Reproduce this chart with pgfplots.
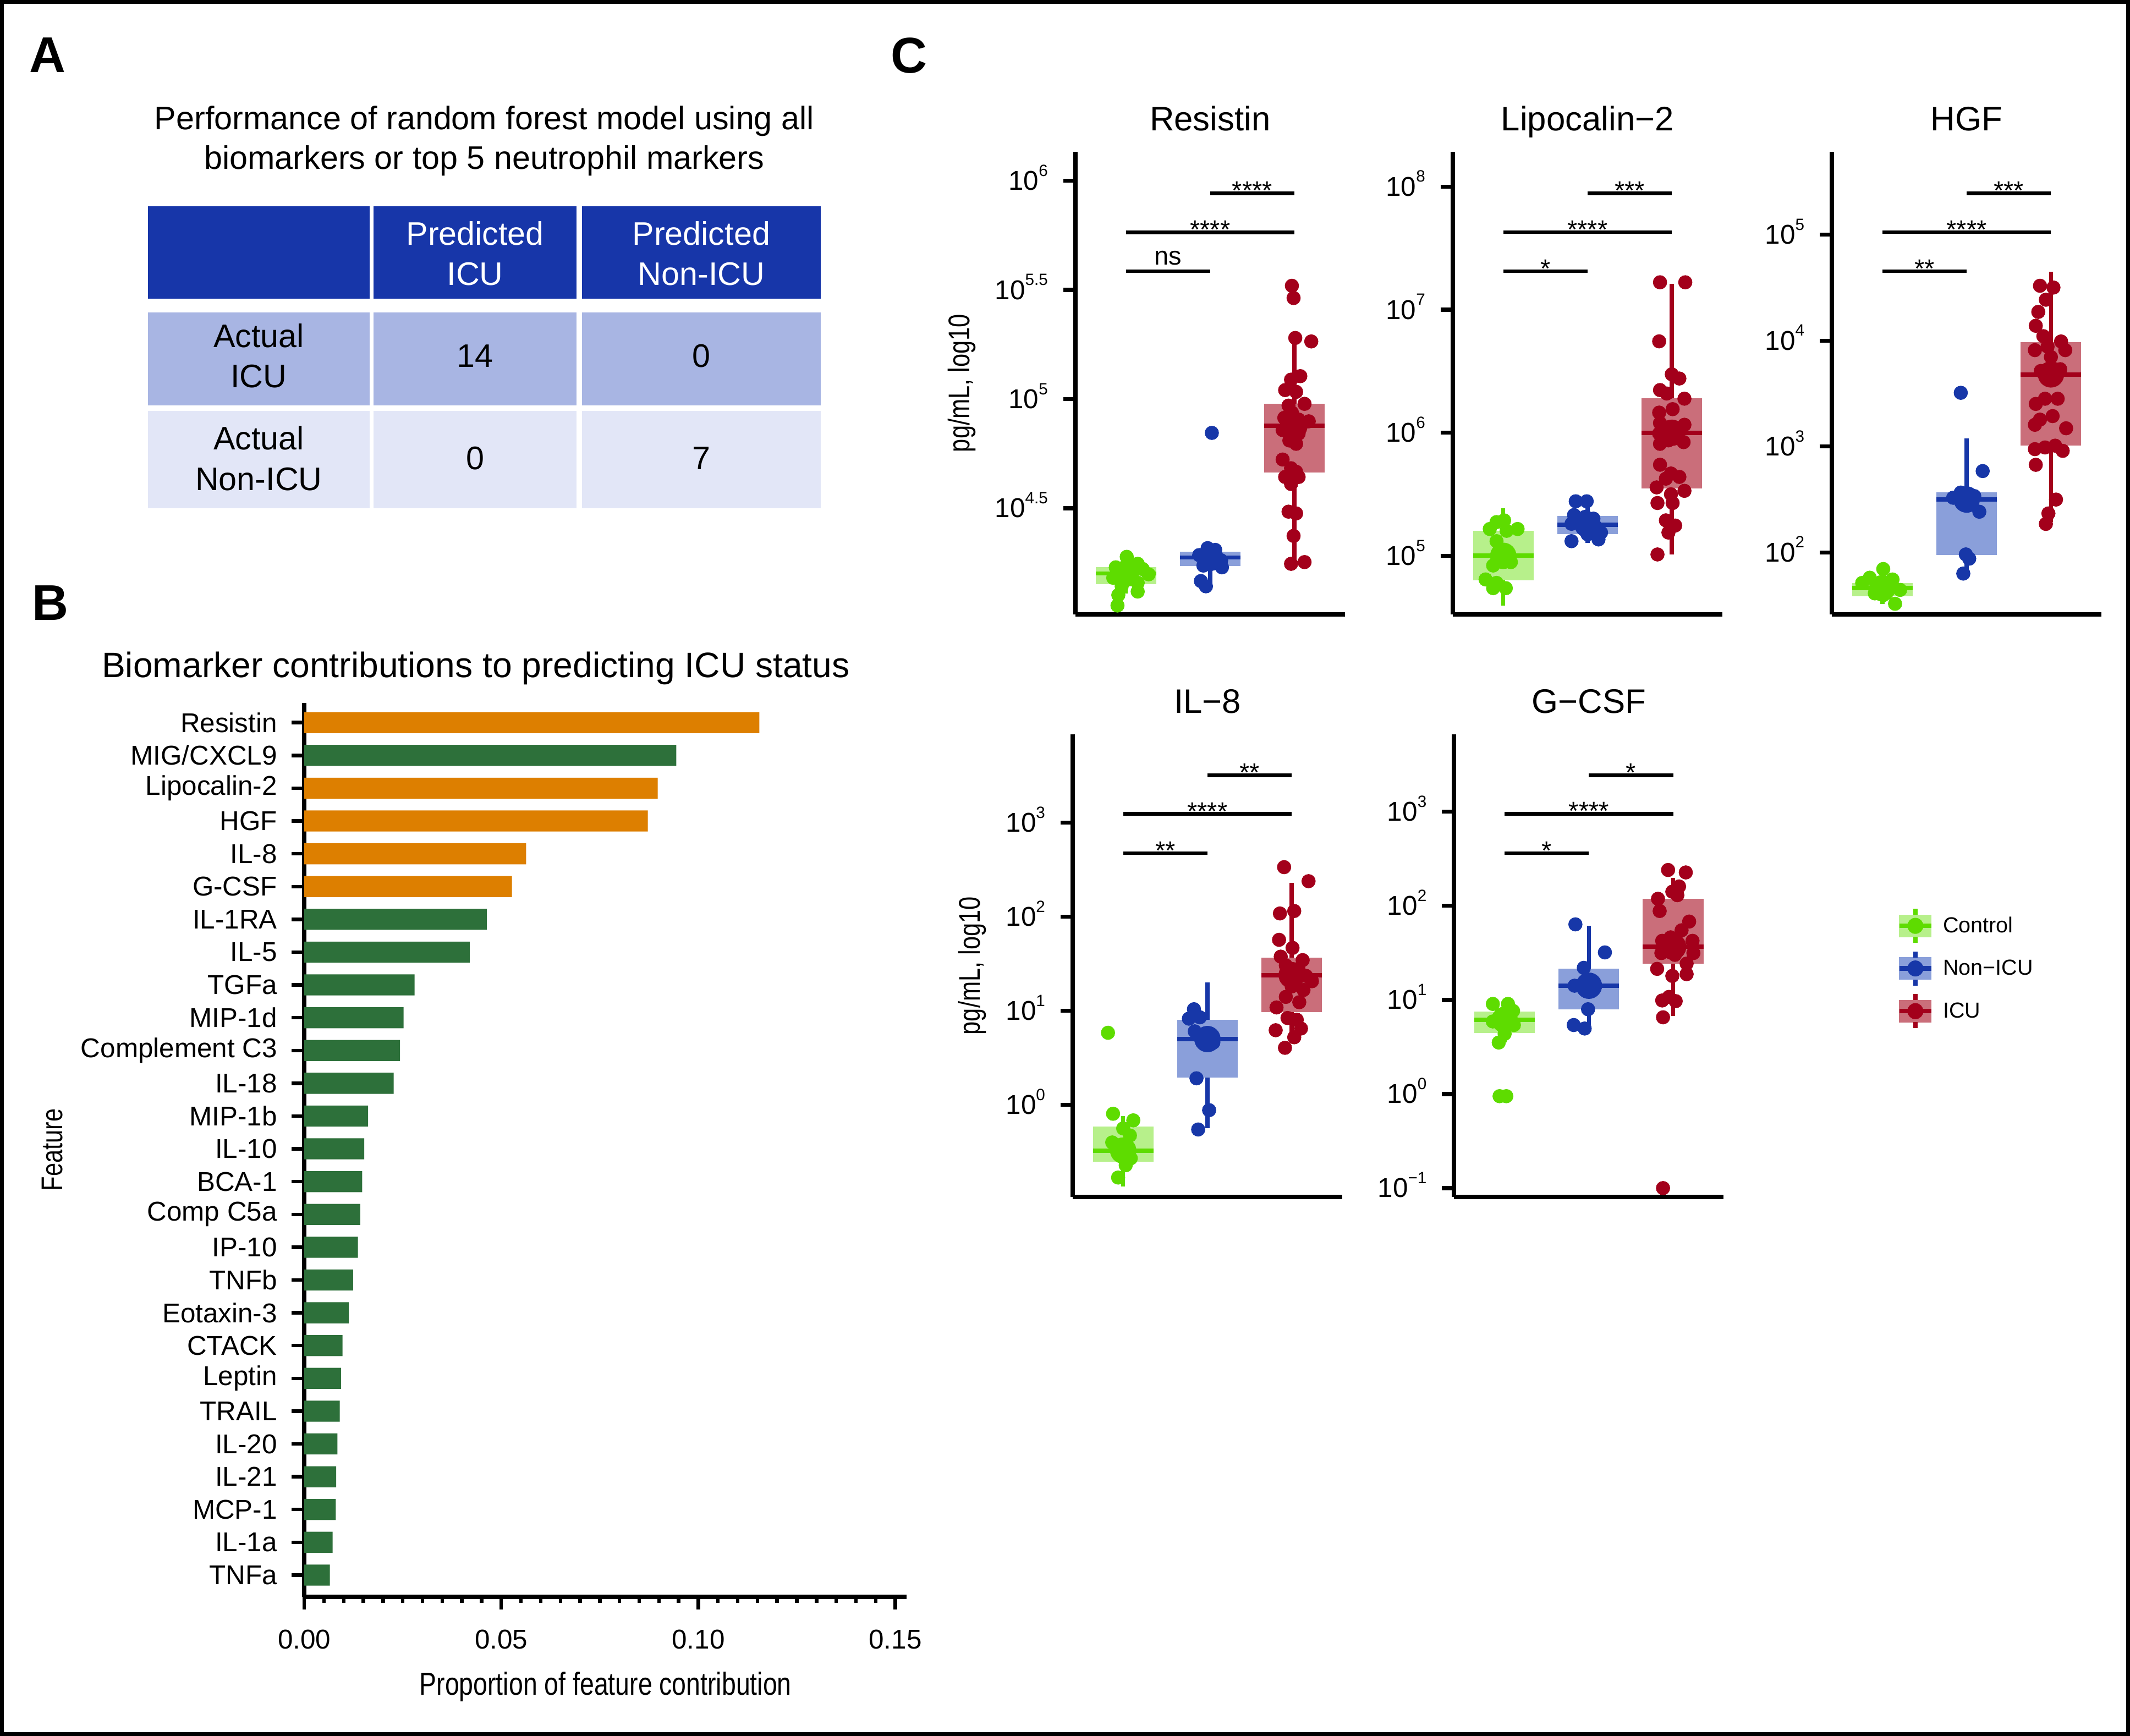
\documentclass[border=0pt]{standalone}
\usepackage{pgfplots}
\pgfplotsset{compat=1.18}
\usepgfplotslibrary{statistics}
\usepackage{fontspec}
\setmainfont{Liberation Sans}
\newfontfamily\condsans[FakeStretch=0.8]{Liberation Sans}
\definecolor{ctl}{HTML}{5EDC00}
\definecolor{ctlL}{HTML}{B7F08B}
\definecolor{non}{HTML}{1737A8}
\definecolor{nonL}{HTML}{8A9FDA}
\definecolor{icu}{HTML}{A3001B}
\definecolor{icuL}{HTML}{CA6E7A}
\definecolor{barO}{HTML}{DD7F00}
\definecolor{barG}{HTML}{2D703A}
\definecolor{hdr}{HTML}{1736A9}
\definecolor{rowa}{HTML}{A8B5E3}
\definecolor{rowb}{HTML}{E2E6F7}
\newcommand{\fs}[1]{\fontsize{#1}{#1}\selectfont}
\newcommand{\tl}[1]{10\smash{\raisebox{10.3pt}{\fs{12}#1}}}
% box: pos, dark, light, lw, q1, med, q3, uw
\newcommand{\bx}[8]{\addplot[forget plot, mark=none, line width=3pt, boxplot prepared={draw direction=y, draw position=#1, lower whisker=#4, lower quartile=#5, median=#6, upper quartile=#7, upper whisker=#8, box extend=0.72, whisker extend=0, every box/.style={draw=none, fill=#3}, every whisker/.style={draw=#2, line width=3pt}, every median/.style={draw=#2, line width=3.2pt}}] coordinates {};}
% bracket: x1, x2, xm, y, label, shift
\newcommand{\brk}[6]{\addplot[forget plot, black, line width=2.6pt] coordinates {(#1,#4) (#2,#4)};
\node[anchor=base, inner sep=0pt, font=\fs{19}, yshift=#6] at (axis cs:#3,#4) {#5};}
\pgfplotsset{
 pts/.style={forget plot, only marks, mark=*, mark size=5pt, color=#1, mark options={draw=none, fill=#1}},
 med/.style={forget plot, only marks, mark=*, mark size=9.5pt, color=#1, mark options={draw=none, fill=#1}},
 cpanel/.style={
  scale only axis, width=198.5pt, height=340.3pt, anchor=north west,
  xmin=0.4, xmax=3.6,
  axis lines=left,
  axis line style={-, line width=3.2pt, black},
  xtick=\empty,
  ytick style={line width=3pt, black},
  tick align=outside, major tick length=9pt,
  yticklabel style={font=\fs{20}, inner sep=0pt, xshift=-11pt},
  every axis title/.style={at={(0.5,1)}, anchor=base, yshift=15.8pt, font=\fs{25}, inner sep=0pt},
  clip=false,
 },
}
\begin{document}
\begin{tikzpicture}
\useasboundingbox (0pt,0pt) rectangle (1568pt,-1278pt);
\fill[white] (0pt,0pt) rectangle (1568pt,-1278pt);

% ---------- Panel A ----------
\node[anchor=base west, inner sep=0pt, font=\fs{37}\bfseries] at (21.5pt,-53.3pt) {A};
\node[anchor=base, inner sep=0pt, font=\fs{24}] at (356.5pt,-95.5pt) {Performance of random forest model using all};
\node[anchor=base, inner sep=0pt, font=\fs{24}] at (356.5pt,-124.5pt) {biomarkers or top 5 neutrophil markers};
\fill[hdr] (109pt,-152pt) rectangle (272pt,-220pt);
\fill[hdr] (275pt,-152pt) rectangle (424.5pt,-220pt);
\fill[hdr] (428.5pt,-152pt) rectangle (604pt,-220pt);
\fill[rowa] (109pt,-230pt) rectangle (272pt,-298.5pt);
\fill[rowa] (275pt,-230pt) rectangle (424.5pt,-298.5pt);
\fill[rowa] (428.5pt,-230pt) rectangle (604pt,-298.5pt);
\fill[rowb] (109pt,-302.5pt) rectangle (272pt,-374pt);
\fill[rowb] (275pt,-302.5pt) rectangle (424.5pt,-374pt);
\fill[rowb] (428.5pt,-302.5pt) rectangle (604pt,-374pt);
\begin{scope}[every node/.style={align=center, inner sep=0pt, font=\fontsize{24}{29.7}\selectfont}]
\node[text=white] at (349.75pt,-186.5pt) {Predicted\\ICU};
\node[text=white] at (516.25pt,-186.5pt) {Predicted\\Non-ICU};
\node at (190.5pt,-262pt) {Actual\\ICU};
\node at (349.75pt,-262pt) {14};
\node at (516.25pt,-262pt) {0};
\node at (190.5pt,-337.5pt) {Actual\\Non-ICU};
\node at (349.75pt,-337.5pt) {0};
\node at (516.25pt,-337.5pt) {7};
\end{scope}

% ---------- Panel B ----------
\node[anchor=base west, inner sep=0pt, font=\fs{37}\bfseries] at (23.6pt,-456.7pt) {B};
\node[anchor=base, inner sep=0pt, font=\fs{26}] at (350.25pt,-498.7pt) {Biomarker contributions to predicting ICU status};
\begin{axis}[
  at={(224pt,-517.5pt)}, anchor=north west, scale only axis,
  width=443.5pt, height=658pt,
  xmin=0, xmax=0.1529, ymin=0.34, ymax=27.60,
  axis lines=left, axis line style={-, line width=3.2pt, black},
  tick align=outside, major tick length=9.3pt, minor tick length=4.4pt,
  tick style={line width=2.6pt, black},
  xtick={0,0.05,0.1,0.15}, xticklabels={0.00,0.05,0.10,0.15},
  minor x tick num=9,
  ytick={1,...,27},
  yticklabels={TNFa,IL-1a,MCP-1,IL-21,IL-20,TRAIL,Leptin,CTACK,Eotaxin-3,TNFb,IP-10,Comp C5a,BCA-1,IL-10,MIP-1b,IL-18,Complement C3,MIP-1d,TGFa,IL-5,IL-1RA,G-CSF,IL-8,HGF,Lipocalin-2,MIG/CXCL9,Resistin},
  yticklabel style={font=\fs{20}, inner sep=0pt, xshift=-10.5pt},
  xticklabel style={font=\fs{20}, inner sep=0pt, yshift=-15pt},
  xlabel={Proportion of feature contribution},
  ylabel={Feature},
  every axis x label/.style={at={(axis description cs:0.5,0)}, anchor=base, yshift=-72.5pt, inner sep=0pt, font=\condsans\fs{23.5}},
  every axis y label/.style={at={(axis description cs:-0.4014,0.5)}, rotate=90, anchor=base, inner sep=0pt, font=\condsans\fs{22}},
  clip=false,
]
\addplot[xbar, fill=barO, draw=none, bar width=15.5pt, bar shift=0pt] coordinates {
 (0.1155,27) (0.0897,25) (0.0872,24) (0.0563,23) (0.0527,22)};
\addplot[xbar, fill=barG, draw=none, bar width=15.5pt, bar shift=0pt] coordinates {
 (0.0944,26) (0.0463,21) (0.0420,20) (0.0280,19) (0.0252,18) (0.0243,17) (0.0227,16)
 (0.0162,15) (0.0152,14) (0.0147,13) (0.0142,12) (0.0136,11) (0.0124,10) (0.0113,9)
 (0.0097,8) (0.0093,7) (0.0090,6) (0.0084,5) (0.0081,4) (0.0080,3) (0.0072,2) (0.0065,1)};
\end{axis}

% ---------- Panel C ----------
\node[anchor=base west, inner sep=0pt, font=\fs{37}\bfseries] at (655.7pt,-53.6pt) {C};

% Resistin
\begin{axis}[cpanel, at={(791.6pt,-111.9pt)}, ymin=4.014, ymax=6.132,
  ytick={4.5,5,5.5,6}, yticklabels={\tl{4.5},\tl{5},\tl{5.5},\tl{6}},
  title={Resistin}, ylabel={pg/mL, log10},
  every axis y label/.style={at={(axis description cs:-0.392,0.5)}, rotate=90, anchor=base, inner sep=0pt, font=\condsans\fs{22}}]
\bx{1}{ctl}{ctlL}{4.11}{4.153}{4.201}{4.229}{4.277}
\bx{2}{non}{nonL}{4.15}{4.234}{4.274}{4.301}{4.317}
\bx{3}{icu}{icuL}{4.253}{4.664}{4.877}{4.978}{5.264}
\addplot[pts=ctl] coordinates {(1.01,4.277) (1.14,4.245) (0.88,4.229) (1.20,4.221) (0.98,4.213) (1.27,4.197) (0.85,4.181) (1.04,4.174) (1.14,4.158) (0.95,4.142) (1.14,4.118) (0.91,4.102) (0.90,4.054)};
\addplot[pts=non] coordinates {(1.97,4.317) (2.06,4.309) (1.87,4.285) (2.13,4.261) (2.02,4.245) (1.92,4.237) (2.14,4.229) (1.89,4.166) (1.95,4.142) (2.02,4.845)};
\addplot[pts=icu] coordinates {(2.97,5.519) (2.99,5.463) (3.01,5.280) (3.20,5.264) (3.07,5.105) (2.96,5.089) (2.89,5.041) (3.02,5.033) (3.12,4.978) (2.93,4.970) (2.97,4.938) (2.88,4.914) (3.05,4.906) (3.17,4.898) (2.96,4.874) (2.86,4.858) (3.05,4.842) (2.94,4.810) (3.02,4.795) (2.86,4.723) (2.96,4.683) (3.02,4.667) (2.89,4.643) (3.05,4.643) (2.96,4.611) (2.93,4.484) (3.02,4.476) (2.99,4.373) (2.96,4.245) (3.12,4.253)};
\addplot[med=ctl] coordinates {(1,4.201)};
\addplot[med=non] coordinates {(2,4.274)};
\addplot[med=icu] coordinates {(3,4.877)};
\brk{1}{2}{1.5}{5.586}{ns}{4.6pt}
\brk{1}{3}{2}{5.764}{****}{-4.6pt}
\brk{2}{3}{2.5}{5.943}{****}{-4.6pt}
\end{axis}

% Lipocalin-2
\begin{axis}[cpanel, at={(1069.4pt,-111.9pt)}, ymin=4.525, ymax=8.282,
  ytick={5,6,7,8}, yticklabels={\tl{5},\tl{6},\tl{7},\tl{8}},
  title={Lipocalin−2}]
\bx{1}{ctl}{ctlL}{4.596}{4.802}{5.0}{5.203}{5.387}
\bx{2}{non}{nonL}{5.105}{5.175}{5.254}{5.322}{5.443}
\bx{3}{icu}{icuL}{5.011}{5.548}{6.0}{6.282}{7.209}
\addplot[pts=ctl] coordinates {(0.92,5.274) (1.01,5.288) (0.84,5.218) (1.17,5.218) (1.04,5.203) (0.92,5.119) (1.01,4.977) (1.09,4.949) (0.88,4.921) (0.79,4.808) (0.92,4.780) (1.03,4.737) (0.88,4.737)};
\addplot[pts=non] coordinates {(1.86,5.443) (1.99,5.443) (1.84,5.331) (1.97,5.316) (2.07,5.302) (1.81,5.260) (1.95,5.246) (2.10,5.232) (2.16,5.189) (1.81,5.119) (2.13,5.133) (2.00,5.175)};
\addplot[pts=icu] coordinates {(2.86,7.223) (3.16,7.223) (2.85,6.743) (3.00,6.475) (3.09,6.441) (2.86,6.347) (2.94,6.319) (3.15,6.277) (3.01,6.192) (2.85,6.164) (2.86,6.079) (3.15,6.065) (2.99,6.023) (3.07,6.008) (2.85,5.994) (2.96,5.938) (3.14,5.924) (2.86,5.910) (2.86,5.740) (2.99,5.669) (3.09,5.641) (2.93,5.627) (2.82,5.556) (3.15,5.528) (2.99,5.500) (2.83,5.429) (3.01,5.429) (2.93,5.288) (3.04,5.246) (2.96,5.189) (2.83,5.011)};
\addplot[med=ctl] coordinates {(1,5.0)};
\addplot[med=non] coordinates {(2,5.254)};
\addplot[med=icu] coordinates {(3,6.0)};
\brk{1}{2}{1.5}{7.314}{*}{-4.6pt}
\brk{1}{3}{2}{7.630}{****}{-4.6pt}
\brk{2}{3}{2.5}{7.946}{***}{-4.6pt}
\end{axis}

% HGF
\begin{axis}[cpanel, at={(1348.5pt,-111.9pt)}, ymin=1.416, ymax=5.781,
  ytick={2,3,4,5}, yticklabels={\tl{2},\tl{3},\tl{4},\tl{5}},
  title={HGF}]
\bx{1}{ctl}{ctlL}{1.515}{1.587}{1.662}{1.712}{1.843}
\bx{2}{non}{nonL}{1.80}{1.974}{2.499}{2.565}{3.074}
\bx{3}{icu}{icuL}{2.286}{3.008}{3.681}{3.983}{4.649}
\addplot[pts=ctl] coordinates {(1.01,1.843) (0.85,1.761) (1.12,1.744) (0.76,1.712) (1.21,1.646) (0.91,1.613) (1.01,1.597) (1.15,1.515) (0.97,1.662) (1.05,1.70) (0.93,1.68)};
\addplot[pts=non] coordinates {(1.93,3.507) (2.19,2.768) (1.84,2.516) (1.93,2.565) (2.09,2.532) (2.15,2.384) (1.99,1.981) (2.03,1.941) (1.96,1.800) (2.0,2.48)};
\addplot[pts=icu] coordinates {(2.87,4.518) (3.03,4.501) (2.94,4.386) (2.85,4.271) (2.82,4.140) (2.91,4.042) (3.12,3.992) (2.96,3.943) (3.17,3.910) (2.81,3.910) (3.00,3.845) (2.88,3.713) (3.11,3.730) (2.82,3.402) (2.93,3.451) (3.08,3.451) (3.02,3.287) (2.87,3.254) (2.81,3.205) (3.18,3.172) (2.81,2.975) (2.93,2.991) (3.05,3.008) (3.14,2.959) (2.82,2.827) (3.06,2.499) (2.97,2.368) (2.94,2.269)};
\addplot[med=ctl] coordinates {(1,1.662)};
\addplot[med=non] coordinates {(2,2.499)};
\addplot[med=icu] coordinates {(3,3.681)};
\brk{1}{2}{1.5}{4.655}{**}{-4.6pt}
\brk{1}{3}{2}{5.023}{****}{-4.6pt}
\brk{2}{3}{2.5}{5.391}{***}{-4.6pt}
\end{axis}

% IL-8
\begin{axis}[cpanel, at={(789.6pt,-540.8pt)}, ymin=-0.977, ymax=3.936,
  ytick={0,1,2,3}, yticklabels={\tl{0},\tl{1},\tl{2},\tl{3}},
  title={IL−8}, ylabel={pg/mL, log10},
  every axis y label/.style={at={(axis description cs:-0.344,0.5)}, rotate=90, anchor=base, inner sep=0pt, font=\condsans\fs{22}}]
\bx{1}{ctl}{ctlL}{-0.865}{-0.604}{-0.485}{-0.231}{-0.120}
\bx{2}{non}{nonL}{-0.250}{0.290}{0.700}{0.905}{1.304}
\bx{3}{icu}{icuL}{0.663}{0.987}{1.379}{1.565}{2.359}
\addplot[pts=ctl] coordinates {(0.82,0.767) (0.88,-0.094) (1.12,-0.164) (1.0,-0.250) (1.08,-0.325) (0.87,-0.399) (1.0,-0.455) (0.96,-0.530) (1.09,-0.567) (1.03,-0.641) (0.94,-0.772)};
\addplot[pts=non] coordinates {(1.84,1.017) (1.91,0.931) (1.78,0.917) (1.85,0.782) (2.07,0.663) (1.87,0.283) (2.02,-0.056) (1.89,-0.261)};
\addplot[pts=icu] coordinates {(2.91,2.527) (3.20,2.378) (2.86,2.035) (3.03,2.061) (2.85,1.755) (3.01,1.669) (2.87,1.576) (3.13,1.539) (2.93,1.483) (3.08,1.446) (3.17,1.371) (2.97,1.334) (3.24,1.315) (3.00,1.259) (3.14,1.222) (2.93,1.148) (3.09,1.092) (2.82,1.036) (2.95,0.924) (3.06,0.905) (2.81,0.794) (3.11,0.812) (3.03,0.719) (2.92,0.607)};
\addplot[med=ctl] coordinates {(1,-0.485)};
\addplot[med=non] coordinates {(2,0.700)};
\addplot[med=icu] coordinates {(3,1.379)};
\brk{1}{2}{1.5}{2.676}{**}{-4.6pt}
\brk{1}{3}{2}{3.093}{****}{-4.6pt}
\brk{2}{3}{2.5}{3.503}{**}{-4.6pt}
\end{axis}

% G-CSF
\begin{axis}[cpanel, at={(1070.4pt,-540.8pt)}, ymin=-1.093, ymax=3.820,
  ytick={-1,0,1,2,3}, yticklabels={\tl{−1},\tl{0},\tl{1},\tl{2},\tl{3}},
  title={G−CSF},
  legend style={at={(1.6433,0.628)}, anchor=north west, draw=none, fill=none, inner sep=0pt, outer sep=0pt, font=\fs{16}, row sep=3pt, column sep=7pt, nodes={inner sep=0pt}},
  legend cell align=left,
  legend entries={Control,Non−ICU,ICU}]
\addlegendimage{legend image code/.code={
  \fill[ctlL] (0pt,-8.15pt) rectangle (23.4pt,8.15pt);
  \draw[ctl, line width=3.2pt] (11.7pt,-12.6pt) -- (11.7pt,-8.15pt);
  \draw[ctl, line width=3.2pt] (11.7pt,8.15pt) -- (11.7pt,12.6pt);
  \draw[ctl, line width=3.4pt] (0pt,0pt) -- (23.4pt,0pt);
  \fill[ctl] (11.7pt,0pt) circle (5.7pt);}}
\addlegendimage{legend image code/.code={
  \fill[nonL] (0pt,-8.15pt) rectangle (23.4pt,8.15pt);
  \draw[non, line width=3.2pt] (11.7pt,-12.6pt) -- (11.7pt,-8.15pt);
  \draw[non, line width=3.2pt] (11.7pt,8.15pt) -- (11.7pt,12.6pt);
  \draw[non, line width=3.4pt] (0pt,0pt) -- (23.4pt,0pt);
  \fill[non] (11.7pt,0pt) circle (5.7pt);}}
\addlegendimage{legend image code/.code={
  \fill[icuL] (0pt,-8.15pt) rectangle (23.4pt,8.15pt);
  \draw[icu, line width=3.2pt] (11.7pt,-12.6pt) -- (11.7pt,-8.15pt);
  \draw[icu, line width=3.2pt] (11.7pt,8.15pt) -- (11.7pt,12.6pt);
  \draw[icu, line width=3.4pt] (0pt,0pt) -- (23.4pt,0pt);
  \fill[icu] (11.7pt,0pt) circle (5.7pt);}}
\bx{1}{ctl}{ctlL}{0.547}{0.651}{0.789}{0.875}{0.957}
\bx{2}{non}{nonL}{0.733}{0.901}{1.151}{1.330}{1.788}
\bx{3}{icu}{icuL}{0.827}{1.386}{1.565}{2.075}{2.299}
\addplot[pts=ctl] coordinates {(0.86,0.957) (1.04,0.957) (1.10,0.883) (0.97,0.827) (0.86,0.771) (1.11,0.733) (1.0,0.640) (0.93,0.547) (0.94,-0.023) (1.02,-0.023)};
\addplot[pts=non] coordinates {(1.84,1.803) (2.19,1.505) (1.94,1.341) (1.83,1.151) (1.99,0.901) (1.82,0.733) (1.95,0.696)};
\addplot[pts=icu] coordinates {(2.94,2.381) (3.15,2.355) (3.07,2.206) (2.99,2.150) (2.82,2.075) (3.05,2.113) (2.84,1.945) (3.19,1.833) (3.10,1.740) (2.97,1.665) (2.87,1.628) (3.23,1.628) (3.05,1.591) (2.86,1.498) (3.24,1.498) (3.02,1.479) (3.16,1.386) (2.81,1.330) (2.99,1.255) (3.16,1.274) (2.95,1.032) (2.87,0.994) (3.03,0.987) (2.88,0.815) (2.88,-1.0)};
\addplot[med=ctl] coordinates {(1,0.789)};
\addplot[med=non] coordinates {(2,1.151)};
\addplot[med=icu] coordinates {(3,1.565)};
\brk{1}{2}{1.5}{2.560}{*}{-4.6pt}
\brk{1}{3}{2}{2.978}{****}{-4.6pt}
\brk{2}{3}{2.5}{3.388}{*}{-4.6pt}
\end{axis}

% frame
\draw[line width=2.8pt] (1.4pt,-1.4pt) rectangle (1566.6pt,-1276.6pt);
\end{tikzpicture}
\end{document}
